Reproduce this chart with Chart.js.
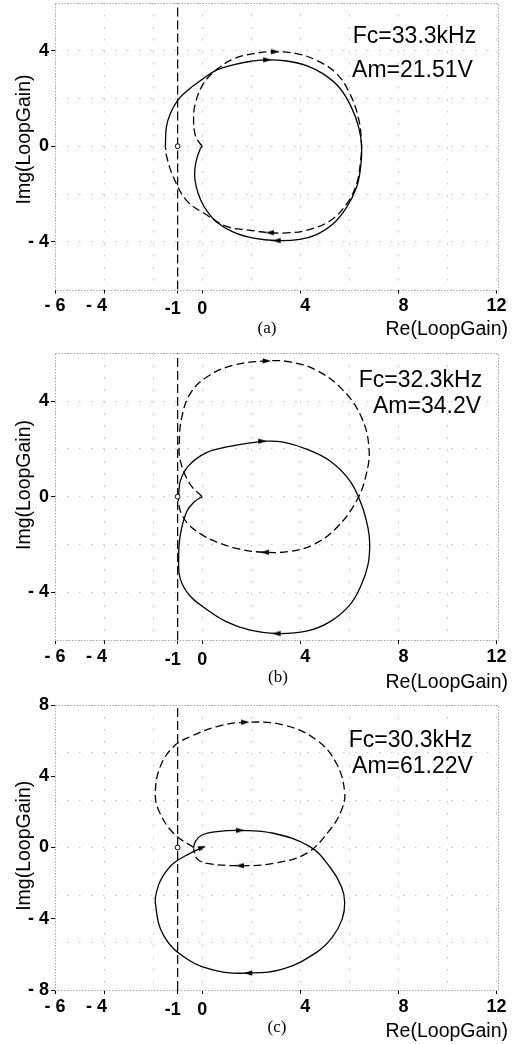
<!DOCTYPE html>
<html>
<head>
<meta charset="utf-8">
<title>Nyquist plots of the loop gain</title>
<script src="https://cdn.jsdelivr.net/npm/chart.js@4.4.1/dist/chart.umd.min.js"></script>
<style>
    html, body { margin: 0; padding: 0; background: #ffffff; }
    body { position: relative; width: 514px; height: 1044px; overflow: hidden; }
    canvas { position: absolute; left: 0; }
</style>
</head>
<body>
<canvas id="chartA" width="514" height="358" style="top:-13px"></canvas>
<canvas id="chartB" width="514" height="358" style="top:337px"></canvas>
<canvas id="chartC" width="514" height="355" style="top:689px"></canvas>
<script>
// ticks shared by the three panels
var xGridAt = [-6, -4, -2, 0, 2, 4, 6, 8, 10, 12];
var xLabelAt = [-6, -4, -1, 0, 4, 8, 12];
var xLabelText = ['- 6', '- 4   ', '-1  ', '0', '  4', '  8', '12'];

var abGridAt = [-6, -4, -2, 0, 2, 4, 6];
var abLabelAt = [-4, 0, 4];
var abLabelText = ['- 4', '0', '4'];

var cGridAt = [-8, -16 / 3, -8 / 3, 0, 8 / 3, 16 / 3, 8];
var cLabelAt = [-8, -4, 0, 4, 8];
var cLabelText = ['- 8', '- 4', '0', '4', '8'];

// (a) Fc=33.3kHz
var aSolidRe = [-1.50, -1.46, -1.30, -1.00, -0.55, 0.00, 0.60, 1.30, 2.00, 2.65, 3.45, 4.25, 4.95, 5.60, 6.08, 6.38, 6.50, 6.46, 6.29, 5.88, 5.34, 4.66, 3.98, 3.04, 2.09, 1.27, 0.60, 0.22, -0.06, -0.24, -0.31, -0.24, -0.08, 0.00];
var aSolidIm = [0.00, 0.80, 1.36, 1.92, 2.38, 2.80, 3.20, 3.42, 3.56, 3.62, 3.57, 3.38, 3.02, 2.45, 1.64, 0.80, 0.00, -0.88, -1.73, -2.57, -3.25, -3.70, -3.90, -3.95, -3.85, -3.60, -3.18, -2.75, -2.25, -1.70, -1.16, -0.60, -0.11, 0.00];
var aDashRe = [0.00, -0.15, -0.28, -0.35, -0.28, 0.05, 0.60, 1.27, 2.09, 2.97, 3.85, 4.66, 5.47, 6.02, 6.36, 6.49, 6.46, 6.29, 5.88, 5.20, 4.25, 3.44, 2.76, 1.82, 1.00, 0.19, -0.62, -1.17, -1.44, -1.50];
var aDashIm = [0.00, 0.20, 0.45, 1.08, 1.78, 2.62, 3.22, 3.65, 3.88, 3.96, 3.88, 3.60, 3.05, 2.20, 1.22, 0.24, -0.60, -1.59, -2.43, -3.13, -3.52, -3.63, -3.62, -3.50, -3.36, -2.88, -2.29, -1.30, -0.46, 0.00];
var aArrowRe = [2.65, 3.04, 2.97, 2.76];
var aArrowIm = [3.62, -3.95, 3.96, -3.62];
var aArrowDir = [90, -90, 90, -90];

// (b) Fc=32.3kHz
var bSolidRe = [-0.96, -0.89, -0.56, 0.19, 1.00, 1.95, 2.60, 3.31, 4.25, 5.20, 6.02, 6.49, 6.76, 6.83, 6.76, 6.49, 6.02, 5.20, 4.25, 3.04, 1.95, 1.00, 0.19, -0.50, -0.89, -0.96, -0.89, -0.62, -0.30, 0.00];
var bSolidIm = [0.00, 0.66, 1.29, 1.85, 2.08, 2.25, 2.32, 2.28, 1.99, 1.50, 0.66, -0.32, -1.31, -2.00, -2.85, -3.69, -4.53, -5.24, -5.63, -5.73, -5.59, -5.24, -4.72, -4.15, -3.45, -2.57, -1.59, -0.60, -0.20, 0.00];
var bDashRe = [0.00, -0.49, -0.89, -0.93, -0.83, -0.49, 0.19, 1.27, 2.63, 3.58, 4.66, 5.75, 6.49, 6.80, 6.69, 6.29, 5.47, 4.53, 3.58, 2.56, 1.54, 0.60, 0.00, -0.56, -0.85, -0.96, -0.96];
var bDashIm = [0.00, 0.52, 1.50, 2.34, 3.33, 4.31, 5.01, 5.50, 5.68, 5.64, 5.29, 4.45, 3.33, 2.06, 0.94, -0.18, -1.31, -2.01, -2.29, -2.33, -2.20, -1.90, -1.60, -1.16, -0.70, -0.30, 0.00];
var bArrowRe = [2.45, 3.04, 2.63, 2.56];
var bArrowIm = [2.32, -5.73, 5.68, -2.33];
var bArrowDir = [90, -90, 90, -90];

// (c) Fc=30.3kHz
var cSolidRe = [-0.35, -0.28, -0.01, 0.60, 1.54, 2.90, 4.39, 5.20, 5.68, 5.81, 5.70, 5.30, 4.66, 3.31, 1.88, 0.60, -0.62, -1.57, -1.91, -1.84, -1.65, -1.17, -0.50, 0.00];
var cSolidIm = [0.00, 0.33, 0.70, 0.89, 0.96, 0.80, 0.05, -1.08, -2.20, -3.10, -4.05, -5.05, -5.89, -6.82, -7.05, -6.92, -6.26, -4.95, -3.10, -2.39, -1.72, -0.89, -0.33, 0.00];
var cDashRe = [-0.35, -1.17, -1.78, -1.91, -1.71, -1.17, -0.49, 0.60, 1.75, 3.31, 4.66, 5.47, 5.81, 5.68, 5.20, 4.25, 2.90, 1.54, 0.19, -0.22, -0.35];
var cDashIm = [0.00, 0.80, 2.11, 3.10, 4.54, 5.66, 6.22, 6.79, 7.03, 6.88, 6.04, 4.73, 3.10, 2.10, 0.98, -0.33, -0.89, -1.02, -0.89, -0.61, -0.05];
var cArrowRe = [1.54, 1.88, 1.75, 1.54, 0.00];
var cArrowIm = [0.96, -7.05, 7.03, -1.02, 0.00];
var cArrowDir = [90, -90, 90, -90, 70];

var FONT = 'Liberation Sans, Arial, sans-serif';

function near(list, v)
{
    for (var i = 0; i < list.length; i++)
    {
        if (Math.abs(list[i] - v) < 1e-6) return i;
    }
    return -1;
}

function union(a, b)
{
    var out = a.slice();

    b.forEach(function (v) { if (near(out, v) < 0) out.push(v); });

    return out.sort(function (p, q) { return p - q; });
}

function points(re, im)
{
    return re.map(function (x, i) { return {x: x, y: im[i]}; });
}

function arrowHead()
{
    var c = document.createElement('canvas');
    c.width = 10; c.height = 10;

    var g = c.getContext('2d');
    g.fillStyle = '#000';
    g.beginPath();
    g.moveTo(5, 0.5); g.lineTo(7.6, 9); g.lineTo(2.4, 9);
    g.closePath();
    g.fill();

    return c;
}

function axis(min, max, gridAt, labelAt, labelText)
{
    return {
        type: 'linear', min: min, max: max,
        afterBuildTicks: function (scale)
        {
            scale.ticks = union(gridAt, labelAt).map(function (v) { return {value: v}; });
        },
        grid: {
            color: function (c) { return c.tick && near(gridAt, c.tick.value) >= 0 ? '#c4c4c4' : 'rgba(0,0,0,0)'; },
            tickColor: function (c) { return c.tick && near(labelAt, c.tick.value) >= 0 ? '#000' : 'rgba(0,0,0,0)'; },
            lineWidth: 1, tickLength: 4, tickWidth: 1
        },
        border: { display: false, dash: [1.5, 10.5] },
        ticks: {
            autoSkip: false, maxRotation: 0, padding: 2, color: '#000',
            font: { family: FONT, size: 18, weight: 'bold' },
            callback: function (v)
            {
                var i = near(labelAt, v);
                return i < 0 ? '' : labelText[i];
            }
        }
    };
}

function decor(p)
{
    return {
        id: 'decor',
        beforeDatasetsDraw: function (chart)
        {
            var g = chart.ctx, a = chart.chartArea;
            g.save();
            g.strokeStyle = '#a9a9a9';
            g.lineWidth = 1;
            g.setLineDash([1.5, 1.5]);
            g.strokeRect(Math.round(a.left) + 0.5, Math.round(a.top) + 0.5, Math.round(a.right - a.left), Math.round(a.bottom - a.top));
            g.restore();
        },
        afterDraw: function (chart)
        {
            var g = chart.ctx, t = p.canvasTop;
            g.save();
            g.fillStyle = '#000';

            g.font = '23px ' + FONT;
            g.textAlign = 'center';
            g.textBaseline = 'alphabetic';
            p.notes.forEach(function (n) { g.fillText(n[0], n[1], n[2] - t); });

            g.font = '19.5px ' + FONT;
            g.textAlign = 'right';
            g.fillText('Re(LoopGain)', 508, p.xTitleY - t);

            g.font = '17px Liberation Serif, Times New Roman, serif';
            g.textAlign = 'center';
            g.fillText(p.caption[0], p.caption[1], p.caption[2] - t);

            g.translate(30, p.yTitleY - t);
            g.rotate(-Math.PI / 2);
            g.font = '19.5px ' + FONT;
            g.textAlign = 'center';
            g.fillText('Img(LoopGain)', 0, 0);
            g.restore();
        }
    };
}

function buildPanel(p)
{
    var x = axis(-6, 12.06, xGridAt, xLabelAt, xLabelText);
    x.afterFit = function (s) { s.height = p.xAxisHeight; };
    x.ticks.font = function (c)
    {
        var low = c.tick && (c.tick.value === -1 || c.tick.value === 0);
        return { family: FONT, size: 18, weight: 'bold', lineHeight: low ? 1.55 : 1.2 };
    };

    var y = axis(p.yMin, p.yMax, p.yGridAt, p.yLabelAt, p.yLabelText);
    y.afterFit = function (s) { s.width = 55; };

    return new Chart(document.getElementById(p.canvas), {
        type: 'scatter',
        data: {
            datasets: [
                { data: points(p.arrowRe, p.arrowIm), pointStyle: arrowHead(), pointRotation: p.arrowDir, pointRadius: 5 },
                { data: [{x: -1, y: 0}], pointStyle: 'circle', pointRadius: 2.4, pointBackgroundColor: '#fff', pointBorderColor: '#000', pointBorderWidth: 1 },
                { data: points(p.solidRe, p.solidIm), showLine: true, borderColor: '#000', borderWidth: 1.3, pointRadius: 0, tension: 0.4 },
                { data: points(p.dashRe, p.dashIm), showLine: true, borderColor: '#000', borderWidth: 1.3, borderDash: [8, 4], pointRadius: 0, tension: 0.4 },
                { data: [{x: -1, y: p.yMin}, {x: -1, y: p.yMax}], showLine: true, borderColor: '#000', borderWidth: 1.2, borderDash: [9, 4], pointRadius: 0 }
            ]
        },
        options: {
            responsive: false,
            animation: false,
            events: [],
            layout: { padding: { top: p.padTop, right: 16, bottom: 0, left: 0 } },
            plugins: { legend: { display: false }, tooltip: { enabled: false } },
            scales: { x: x, y: y }
        },
        plugins: [decor(p)]
    });
}

buildPanel({
    canvas: 'chartA', canvasTop: -13, padTop: 16, xAxisHeight: 55.5,
    yMin: -6, yMax: 6, yGridAt: abGridAt, yLabelAt: abLabelAt, yLabelText: abLabelText,
    solidRe: aSolidRe, solidIm: aSolidIm, dashRe: aDashRe, dashIm: aDashIm,
    arrowRe: aArrowRe, arrowIm: aArrowIm, arrowDir: aArrowDir,
    notes: [['Fc=33.3kHz', 414.5, 42.7], ['Am=21.51V', 412.5, 76.7]],
    yTitleY: 139.5, xTitleY: 334.5, caption: ['(a)', 267, 332.5]
});

buildPanel({
    canvas: 'chartB', canvasTop: 337, padTop: 16.3, xAxisHeight: 55,
    yMin: -6, yMax: 6, yGridAt: abGridAt, yLabelAt: abLabelAt, yLabelText: abLabelText,
    solidRe: bSolidRe, solidIm: bSolidIm, dashRe: bDashRe, dashIm: bDashIm,
    arrowRe: bArrowRe, arrowIm: bArrowIm, arrowDir: bArrowDir,
    notes: [['Fc=32.3kHz', 420.5, 386.7], ['Am=34.2V', 427, 413.3]],
    yTitleY: 485, xTitleY: 688.3, caption: ['(b)', 278, 681.7]
});

buildPanel({
    canvas: 'chartC', canvasTop: 689, padTop: 16, xAxisHeight: 54,
    yMin: -8, yMax: 8, yGridAt: cGridAt, yLabelAt: cLabelAt, yLabelText: cLabelText,
    solidRe: cSolidRe, solidIm: cSolidIm, dashRe: cDashRe, dashIm: cDashIm,
    arrowRe: cArrowRe, arrowIm: cArrowIm, arrowDir: cArrowDir,
    notes: [['Fc=30.3kHz', 410.5, 746.7], ['Am=61.22V', 412.5, 773.3]],
    yTitleY: 845.8, xTitleY: 1036.7, caption: ['(c)', 277, 1032]
});
</script>
</body>
</html>
